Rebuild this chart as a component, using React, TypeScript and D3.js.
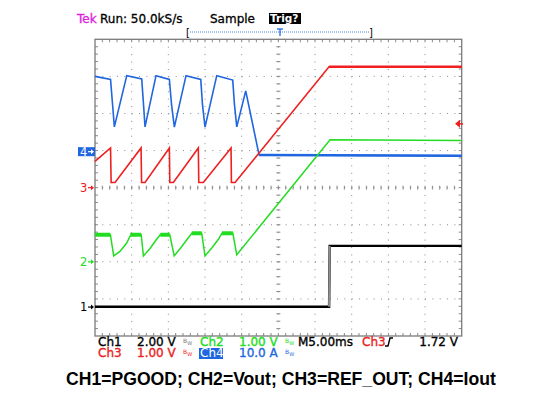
import React, { useEffect, useRef } from 'react';
import * as d3 from 'd3';

// time in ms, values in channel units (V or A)
const ch1Pgood: [number, number][] = [[-25, 0.02], [6.92, 0.02], [7.0, 3.3], [25, 3.3]];

const ch2Vout: [number, number][] = [
  [-25, 0.73], [-22.9, 0.73], [-22.45, 0.16], [-21.6, 0.28], [-20.7, 0.5], [-20.2, 0.7],
  [-18.7, 0.73], [-18.4, 0.16], [-17.5, 0.36], [-16.7, 0.58], [-16.1, 0.73],
  [-14.8, 0.73], [-14.2, 0.16], [-13.3, 0.38], [-12.45, 0.6], [-11.8, 0.77],
  [-10.45, 0.77], [-10.0, 0.16], [-9.05, 0.38], [-8.2, 0.6], [-7.7, 0.77],
  [-6.2, 0.77], [-5.67, 0.19], [7.05, 3.29], [25, 3.27]
];
// noisy flat parts of Vout: [from, to, level]
const ch2Noise: [number, number, number][] = [
  [-25, -22.9, 0.73], [-20.2, -18.7, 0.73], [-16.1, -14.8, 0.73], [-11.8, -10.45, 0.77], [-7.7, -6.2, 0.77]
];

const ch3Ref: [number, number][] = [
  [-25, 0.71], [-22.88, 1.07], [-22.8, 0.14], [-22.27, 0.14], [-18.72, 1.07], [-18.65, 0.14],
  [-18.18, 0.14], [-14.86, 1.07], [-14.8, 0.14], [-14.32, 0.14], [-10.91, 1.07], [-10.85, 0.14],
  [-10.23, 0.14], [-6.45, 1.07], [-6.4, 0.14], [-5.9, 0.14], [6.91, 3.26], [25, 3.26]
];

const ch4Iout: [number, number][] = [
  [-25, 20.3], [-22.88, 19.5], [-22.6, 12.6], [-22.36, 6.7], [-20.67, 20.5], [-18.63, 19.6],
  [-18.38, 12.6], [-18.18, 6.7], [-16.68, 20.5], [-14.86, 19.5], [-14.56, 12.6], [-14.18, 6.6],
  [-12.59, 20.5], [-10.58, 19.5], [-10.34, 12.6], [-10.0, 6.6], [-8.4, 20.5], [-6.22, 19.3],
  [-5.98, 12.6], [-5.67, 6.7], [-4.45, 16.4], [-2.63, -0.9], [25, -1.1]
];

// channel setup: ground offset (div), units per div
const channels = [
  { id: '1', offset: -3.22, perDiv: 2, color: '#000000' },
  { id: '2', offset: -2.0, perDiv: 1, color: '#22dd22' },
  { id: '3', offset: 0, perDiv: 1, color: '#ee2020' },
  { id: '4', offset: 0.97, perDiv: 10, color: '#1f66e0' }
];
const trigLevel = 1.72; // V on ch3

const readRow1 = [
  { t: 'Ch1', x: 98, c: '#000' }, { t: '2.00 V', x: 137, c: '#000' },
  { t: 'Ch2', x: 200, c: '#22dd22' }, { t: '1.00 V', x: 239, c: '#22dd22' },
  { t: 'M5.00ms', x: 298, c: '#000' }, { t: 'Ch3', x: 362, c: '#ee2020' }
];
const readRow2 = [
  { t: 'Ch3', x: 98, c: '#ee2020' }, { t: '1.00 V', x: 137, c: '#ee2020' },
  { t: '10.0 A', x: 239, c: '#1f66e0' }
];
const caption = 'CH1=PGOOD; CH2=Vout; CH3=REF_OUT; CH4=Iout';

const App = () => {
  const ref = useRef<SVGSVGElement>(null);

  useEffect(() => {
    const svg = d3.select(ref.current);
    svg.selectAll('*').remove();
    const font = 'DejaVu Sans, sans-serif';

    const x = d3.scaleLinear().domain([-25, 25]).range([95, 461.7]);
    const y = d3.scaleLinear().domain([-4, 4]).range([336, 39.3]);
    const divX = (x(25) - x(-25)) / 10;
    const divY = (y(-4) - y(4)) / 8;
    const grid = '#8a8a8a';

    const g = svg.append('g');

    // graticule
    for (let i = 1; i < 10; i++) {
      if (i === 5) continue;
      g.append('line').attr('x1', x(-25 + i * 5)).attr('x2', x(-25 + i * 5))
        .attr('y1', y(4)).attr('y2', y(-4)).attr('stroke', grid).attr('stroke-width', 1)
        .attr('stroke-dasharray', `1 ${divY / 5 - 1}`);
    }
    for (let j = 1; j < 8; j++) {
      if (j === 4) continue;
      g.append('line').attr('y1', y(-4 + j)).attr('y2', y(-4 + j))
        .attr('x1', x(-25)).attr('x2', x(25)).attr('stroke', grid).attr('stroke-width', 1)
        .attr('stroke-dasharray', `1 ${divX / 5 - 1}`);
    }
    // center lines with minor ticks
    g.append('line').attr('x1', x(0)).attr('x2', x(0)).attr('y1', y(4)).attr('y2', y(-4))
      .attr('stroke', grid).attr('stroke-dasharray', `1 ${divY / 5 - 1}`);
    g.append('line').attr('y1', y(0)).attr('y2', y(0)).attr('x1', x(-25)).attr('x2', x(25))
      .attr('stroke', grid).attr('stroke-dasharray', `1 ${divX / 5 - 1}`);
    const minorX = d3.range(1, 50).map(k => x(-25) + k * divX / 5);
    const minorY = d3.range(1, 40).map(k => y(4) + k * divY / 5);
    minorX.forEach(px => {
      g.append('line').attr('x1', px).attr('x2', px).attr('y1', y(0) - 2).attr('y2', y(0) + 2).attr('stroke', grid);
      g.append('line').attr('x1', px).attr('x2', px).attr('y1', y(4)).attr('y2', y(4) + 3).attr('stroke', grid);
      g.append('line').attr('x1', px).attr('x2', px).attr('y1', y(-4)).attr('y2', y(-4) - 3).attr('stroke', grid);
    });
    minorY.forEach(py => {
      g.append('line').attr('y1', py).attr('y2', py).attr('x1', x(0) - 2).attr('x2', x(0) + 2).attr('stroke', grid);
      g.append('line').attr('y1', py).attr('y2', py).attr('x1', x(-25)).attr('x2', x(-25) + 3).attr('stroke', grid);
      g.append('line').attr('y1', py).attr('y2', py).attr('x1', x(25)).attr('x2', x(25) - 3).attr('stroke', grid);
    });
    g.append('rect').attr('x', x(-25)).attr('y', y(4)).attr('width', x(25) - x(-25))
      .attr('height', y(-4) - y(4)).attr('fill', 'none').attr('stroke', '#7a7a7a').attr('stroke-width', 1.3);

    // traces
    const line = (ch: typeof channels[0]) =>
      d3.line<[number, number]>().x(d => x(d[0])).y(d => y(ch.offset + d[1] / ch.perDiv));

    const [c1, c2, c3, c4] = channels;
    g.append('path').attr('d', line(c4)(ch4Iout)).attr('fill', 'none')
      .attr('stroke', c4.color).attr('stroke-width', 1.6);
    g.append('path').attr('d', line(c4)(ch4Iout.slice(-2))).attr('fill', 'none')
      .attr('stroke', c4.color).attr('stroke-width', 2.6);

    g.append('path').attr('d', line(c3)(ch3Ref)).attr('fill', 'none')
      .attr('stroke', c3.color).attr('stroke-width', 1.6);
    g.append('path').attr('d', line(c3)(ch3Ref.slice(-2))).attr('fill', 'none')
      .attr('stroke', c3.color).attr('stroke-width', 2.4);

    g.append('path').attr('d', line(c2)(ch2Vout)).attr('fill', 'none')
      .attr('stroke', c2.color).attr('stroke-width', 1.5);
    ch2Noise.forEach(n => {
      g.append('path').attr('d', line(c2)([[n[0], n[2]], [n[1], n[2]]])).attr('fill', 'none')
        .attr('stroke', c2.color).attr('stroke-width', 4);
    });

    g.append('path').attr('d', line(c1)(ch1Pgood)).attr('fill', 'none')
      .attr('stroke', c1.color).attr('stroke-width', 2.4);
    g.append('path').attr('d', line(c1)(ch1Pgood.slice(1, 3))).attr('fill', 'none')
      .attr('stroke', '#909090').attr('stroke-width', 2);

    // ground markers at left
    channels.forEach(ch => {
      const py = y(ch.offset);
      if (ch.id === '4') {
        svg.append('rect').attr('x', 78).attr('y', py - 4.5).attr('width', 17).attr('height', 9).attr('fill', ch.color);
      }
      const col = ch.id === '4' ? '#fff' : ch.color;
      svg.append('text').attr('x', 80).attr('y', py + 4).attr('font-family', font).attr('font-size', 11.5)
        .attr('fill', col).text(ch.id);
      svg.append('line').attr('x1', 88).attr('x2', 92).attr('y1', py).attr('y2', py).attr('stroke', col).attr('stroke-width', 1.2);
      svg.append('path').attr('d', `M91,${py - 2.5}L94,${py}L91,${py + 2.5}Z`).attr('fill', col);
    });

    // trigger level marker
    const ty = y(channels[2].offset + trigLevel / channels[2].perDiv);
    svg.append('path').attr('d', `M455,${ty}L460,${ty - 4}L460,${ty + 4}Z`).attr('fill', c3.color);
    svg.append('line').attr('x1', 459).attr('x2', 463).attr('y1', ty).attr('y2', ty).attr('stroke', c3.color).attr('stroke-width', 1.5);

    // header
    const hdr = svg.append('text').attr('y', 22.5).attr('font-family', font).attr('font-size', 12)
      .attr('stroke-width', 0.3);
    hdr.append('tspan').attr('x', 77).attr('fill', '#e020e0').attr('stroke', '#e020e0').text('Tek');
    hdr.append('tspan').attr('x', 100).attr('fill', '#000').attr('stroke', '#000').text('Run: 50.0kS/s');
    hdr.append('tspan').attr('x', 210).attr('fill', '#000').attr('stroke', '#000').text('Sample');
    svg.append('rect').attr('x', 269).attr('y', 13).attr('width', 32).attr('height', 11).attr('fill', '#000');
    svg.append('text').attr('x', 270).attr('y', 22).attr('font-family', font).attr('font-size', 10.5)
      .attr('font-weight', 'bold').attr('fill', '#fff').text('Trig?');

    // trigger position bar
    svg.append('text').attr('x', 186).attr('y', 36).attr('font-family', font).attr('font-size', 10).attr('fill', '#000').text('[');
    svg.append('text').attr('x', 369).attr('y', 36).attr('font-family', font).attr('font-size', 10).attr('fill', '#000').text(']');
    svg.append('line').attr('x1', 190).attr('x2', 370).attr('y1', 32).attr('y2', 32)
      .attr('stroke', '#4a80e8').attr('stroke-width', 1).attr('stroke-dasharray', '1 1');
    svg.append('line').attr('x1', 277).attr('x2', 283).attr('y1', 29).attr('y2', 29).attr('stroke', '#1f66e0').attr('stroke-width', 1.3);
    svg.append('line').attr('x1', 280).attr('x2', 280).attr('y1', 29).attr('y2', 36).attr('stroke', '#1f66e0').attr('stroke-width', 1.3);

    // readout
    const rowText = (rows: typeof readRow1, yy: number) => rows.forEach(r => {
      svg.append('text').attr('x', r.x).attr('y', yy).attr('font-family', font).attr('font-size', 12)
        .attr('fill', r.c).attr('stroke', r.c).attr('stroke-width', 0.35).text(r.t);
    });
    rowText(readRow1, 346);
    rowText(readRow2, 357);
    svg.append('text').attr('x', 458).attr('y', 346).attr('text-anchor', 'end').attr('font-family', font)
      .attr('font-size', 12).attr('fill', '#000').attr('stroke', '#000').attr('stroke-width', 0.35).text('1.72 V');
    svg.append('path').attr('d', 'M385,346 L388,346 L390,338 L393,338').attr('fill', 'none')
      .attr('stroke', '#000').attr('stroke-width', 1.4);
    svg.append('rect').attr('x', 199).attr('y', 348).attr('width', 24).attr('height', 11).attr('fill', '#1f66e0');
    svg.append('text').attr('x', 200).attr('y', 357).attr('font-family', font).attr('font-size', 12)
      .attr('fill', '#fff').text('Ch4');
    const bw = [[183, 346, '#777'], [285, 346, '#22dd22'], [183, 357, '#ee2020'], [285, 357, '#1f66e0']];
    bw.forEach(([bx, by, bc]) => {
      const t = svg.append('text').attr('x', bx as number).attr('y', (by as number) - 3)
        .attr('font-family', font).attr('font-size', 6).attr('fill', bc as string);
      t.append('tspan').text('B');
      t.append('tspan').attr('dy', 2).attr('font-size', 5).text('W');
    });

    // caption
    svg.append('text').attr('x', 66).attr('y', 385).attr('font-family', 'Liberation Sans, Arial, sans-serif')
      .attr('font-size', 17.6).attr('font-weight', 'bold').attr('fill', '#000').text(caption);
  }, []);

  return (
    <svg ref={ref} width={541} height={396}
      style={{ position: 'absolute', left: 0, top: 0, background: '#fff' }} />
  );
};

export default App;
